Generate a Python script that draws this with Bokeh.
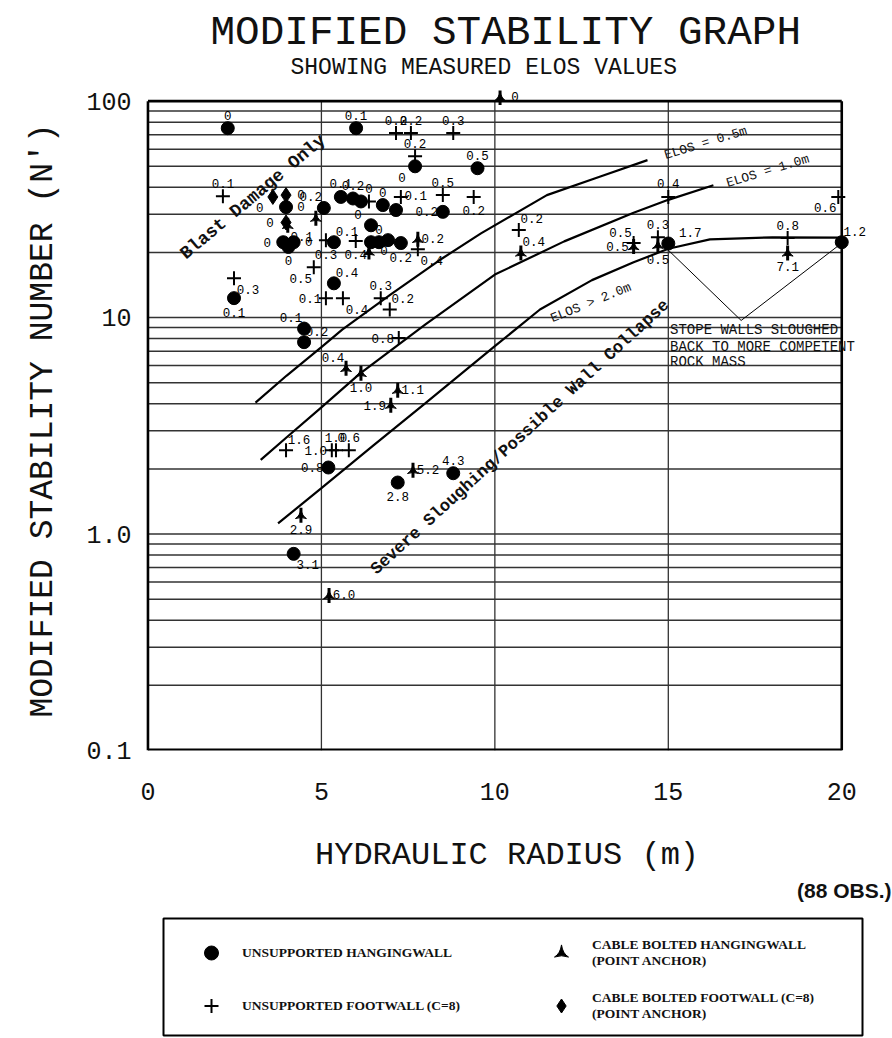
from bokeh.plotting import figure
from bokeh.models import (ColumnDataSource, Range1d, FixedTicker, LabelSet, Label,
                          Legend, LegendItem, Title)
from bokeh.layouts import column
from bokeh.embed import file_html
from bokeh.resources import INLINE
from bokeh.core.properties import value

MONO = "Liberation Mono"
SERIF = "Liberation Serif"

# ---------------- data ----------------
# Unsupported hangingwall (filled circles)
hw_x = [2.3, 6.0, 7.7, 9.5, 2.48, 4.5, 4.5, 5.36, 5.2, 4.2, 7.2, 8.8, 15.0, 20.0, 8.5,
        3.98, 3.9, 4.2, 4.05, 5.07, 5.56, 5.91, 6.14, 6.77, 7.15, 5.36, 6.43, 6.43, 6.66, 6.92, 7.29]
hw_n = [75, 75, 50, 49, 12.3, 8.9, 7.7, 14.4, 2.03, 0.81, 1.73, 1.91, 22.0, 22.3, 30.8,
        32.4, 22.3, 22.3, 21.2, 32.1, 36.1, 35.5, 34.4, 33.1, 31.4, 22.3, 26.7, 22.3, 22.3, 22.8, 22.1]
hw_elos = ["0", "0.1", "0", "0.5", "0.1", "0.1", "0.2", "0.4", "0.8", "3.1", "2.8", "4.3", "1.7", "1.2", "0.2",
           "0", "0", "0", "0", "0.2", "0.1", "0.2", "", "0", "", "0.1", "0", "", "0", "", "0.2"]
hw_lab = ["n", "n", "sw", "n", "s", "nw", "ne", "ne", "w", "se", "s", "n", "ene", "ne", "w",
          "e", "w", "e", "s", "nw", "n", "n", "", "n", "", "ne", "nw", "", "n", "", "s"]

# Unsupported footwall (plus)
fw_x = [7.15, 7.58, 8.8, 7.7, 2.16, 2.48, 4.78, 5.13, 5.62, 6.71, 6.97, 7.23, 3.98, 5.3, 5.42, 5.79,
        8.5, 9.39, 10.69, 14.0, 14.7, 15.0, 18.44, 19.9, 7.29, 6.37, 5.13, 5.99, 7.78]
fw_n = [71.2, 71.2, 71.2, 55.7, 36.4, 15.2, 17.1, 12.3, 12.3, 12.3, 10.9, 8.04, 2.44, 2.44, 2.44, 2.44,
        36.8, 36.1, 25.4, 22.1, 23.5, 36.1, 23.3, 36.1, 36.1, 34.4, 22.8, 22.6, 20.7]
fw_elos = ["0.2", "0.2", "0.3", "0.2", "0.1", "0.3", "0.5", "0.1", "0.4", "0.3", "0.2", "0.8", "1.6", "1.0", "1.0", "0.6",
           "0.5", "0.2", "0.2", "0.5", "0.3", "0.4", "0.8", "0.6", "0.1", "0", "0.3", "0.4", "0.4"]
fw_lab = ["n", "n", "n", "n", "n", "se", "sw", "w", "se", "n", "ne", "w", "ne", "w", "n", "n",
          "n", "s", "ne", "nw", "n", "n", "n", "sw", "e", "n", "s", "s", "se"]

# Cable bolted hangingwall (point anchor)
cb_x = [10.15, 5.71, 6.14, 7.2, 7.0, 4.41, 5.22, 7.64, 10.75, 14.0, 14.7, 18.44, 4.03, 4.84, 6.37, 7.78]
cb_n = [104, 5.83, 5.53, 4.62, 3.94, 1.22, 0.52, 1.97, 19.9, 21.3, 21.6, 19.9, 26.7, 28.8, 20.1, 23.0]
cb_elos = ["0", "0.4", "1.0", "1.1", "1.9", "2.9", "6.0", "5.2", "0.4", "0.5", "0.5", "7.1", "0.1", "", "0", "0.2"]
cb_lab = ["e", "nw", "s", "e", "w", "s", "e", "e", "ne", "w", "s", "s", "se", "", "e", "e"]

# Cable bolted footwall (point anchor)
cf_x = [3.6, 3.98, 3.98]
cf_n = [36.1, 36.8, 27.5]
cf_elos = ["0", "0", "0"]
cf_lab = ["sw", "e", "w"]

# Design lines
elos05_x = [3.1, 4.0, 5.0, 5.6, 7.0, 8.4, 9.6, 11.5, 13.0, 14.4]
elos05_n = [4.05, 5.4, 7.3, 8.8, 12.8, 18.4, 24.5, 36.8, 44.6, 53.4]
elos10_x = [3.25, 4.0, 5.0, 6.1, 8.0, 10.0, 12.0, 14.0, 15.0, 16.3]
elos10_n = [2.2, 2.8, 3.85, 5.5, 9.3, 15.8, 22.5, 30.5, 35.0, 40.9]
elos20_x = [3.75, 5.0, 6.5, 8.0, 10.0, 11.3, 12.8, 14.0, 15.0, 16.2, 18.0, 20.0]
elos20_n = [1.12, 1.63, 2.57, 4.03, 7.38, 10.9, 14.9, 18.0, 20.8, 23.0, 23.5, 23.4]
# "stope walls sloughed back" bracket
vee_x = [15.0, 17.1, 20.0]
vee_n = [20.5, 9.7, 22.1]

x_ticks = [0, 5, 10, 15, 20]
y_ticks = [0.1, 1, 10, 100]
y_tick_labels = ["0.1", "1.0", "10", "100"]
x_grid_vals = [5, 10, 15]
y_grid_vals = [k * 10.0 ** d for d in (-1, 0, 1) for k in range(2, 10)] + [1.0, 10.0]

# ---------------- main figure ----------------
p = figure(width=892, height=904, y_axis_type="log",
           x_range=Range1d(-0.1, 20.8), y_range=Range1d(0.1, 112),
           toolbar_location=None, output_backend="svg", frame_align=False,
           min_border_left=144, min_border_right=23, min_border_top=90, min_border_bottom=154,
           background_fill_color="white", border_fill_color="white")
p.outline_line_color = None
p.grid.visible = False

# grid lines (drawn only inside 0..20 / 0.1..100)
ng = len(y_grid_vals)
p.segment(x0=[0] * ng, y0=y_grid_vals, x1=[20] * ng, y1=y_grid_vals,
          line_color="#333333", line_width=1.5)
p.segment(x0=x_grid_vals, y0=[0.1] * 3, x1=x_grid_vals, y1=[100] * 3,
          line_color="#333333", line_width=1.3)
# frame border
p.segment(x0=[0, 20, 0], y0=[0.1, 0.1, 100], x1=[0, 20, 20], y1=[100, 100, 100],
          line_color="black", line_width=2.6)
p.segment(x0=[0], y0=[0.1], x1=[20], y1=[0.1], line_color="black", line_width=4)

# axes
p.xaxis.ticker = FixedTicker(ticks=x_ticks)
p.yaxis.ticker = FixedTicker(ticks=y_ticks)
p.yaxis.major_label_overrides = {t: l for t, l in zip(y_ticks, y_tick_labels)}
for ax in (p.xaxis[0], p.yaxis[0]):
    ax.axis_line_color = None
    ax.major_tick_line_color = None
    ax.minor_tick_line_color = None
    ax.major_label_text_font = MONO
    ax.major_label_text_font_size = "25px"
    ax.major_label_text_color = "#111111"
    ax.axis_label_text_font = MONO
    ax.axis_label_text_font_style = "normal"
    ax.axis_label_text_color = "#111111"
p.xaxis.major_label_standoff = 26
p.yaxis.major_label_standoff = 7
p.xaxis.axis_label = "HYDRAULIC RADIUS (m)"
p.yaxis.axis_label = "MODIFIED STABILITY NUMBER (N')"
p.xaxis.axis_label_text_font_size = "32px"
p.yaxis.axis_label_text_font_size = "33px"
p.xaxis.axis_label_standoff = 34
p.yaxis.axis_label_standoff = 21

# titles
p.add_layout(Title(text="SHOWING MEASURED ELOS VALUES", align="left", offset=146,
                   text_font=MONO, text_font_size="23px", text_font_style="normal",
                   text_color="#111111", standoff=19), "above")
p.add_layout(Title(text="MODIFIED STABILITY GRAPH", align="left", offset=66,
                   text_font=MONO, text_font_size="41px", text_font_style="normal",
                   text_color="#111111", standoff=-24), "above")
p.add_layout(Title(text="(88 OBS.)", align="right", offset=-22, text_font="Liberation Sans",
                   text_font_style="bold", text_font_size="21px", text_color="#111111",
                   standoff=1), "below")

# design lines
for lx, ln in ((elos05_x, elos05_n), (elos10_x, elos10_n), (elos20_x, elos20_n)):
    p.line(lx, ln, line_color="black", line_width=2.2)
p.line(vee_x, vee_n, line_color="black", line_width=1)

# markers
p.scatter(hw_x, hw_n, marker="circle", size=13, fill_color="black", line_color="black")
p.scatter(fw_x, fw_n, marker="cross", size=14, line_color="black", line_width=2)
p.scatter(cb_x, cb_n, marker="triangle_pin", size=11, fill_color="black", line_color="black")
p.scatter(cb_x, cb_n, marker="dash", angle=1.5708, size=15, line_color="black", line_width=3)
p.scatter(cf_x, cf_n, marker="diamond", size=15, fill_color="black", line_color="black")

# ELOS value labels
offs = {"n": (0, 13), "s": (0, -14), "e": (15, 1), "w": (-16, 0), "ne": (13, 11), "nw": (-13, 11),
        "se": (14, -11), "sw": (-13, -11), "ene": (22, 11), "": (0, 0)}
all_x = hw_x + fw_x + cb_x + cf_x
all_n = hw_n + fw_n + cb_n + cf_n
all_t = hw_elos + fw_elos + cb_elos + cf_elos
all_p = hw_lab + fw_lab + cb_lab + cf_lab
lab_src = ColumnDataSource(dict(x=all_x, y=all_n, text=all_t,
                                dx=[offs[c][0] for c in all_p], dy=[offs[c][1] for c in all_p]))
p.add_layout(LabelSet(x="x", y="y", text="text", x_offset="dx", y_offset="dy", source=lab_src,
                      text_align="center", text_baseline="middle", text_font=value(MONO),
                      text_font_size="12.5px", text_color="#000000"))

# line and region captions
def rtext(x, y, t, ang, size, bold=False):
    p.text(x=[x], y=[y], text=[t], angle=ang, angle_units="deg", text_align="center",
           text_baseline="middle", text_font=value(MONO), text_font_size=size,
           text_font_style="bold" if bold else "normal", text_color="#111111")

rtext(16.08, 64.0, "ELOS = 0.5m", 17, "13px")
rtext(17.87, 47.5, "ELOS = 1.0m", 17, "13px")
rtext(12.77, 11.7, "ELOS > 2.0m", 22, "13px")
rtext(3.03, 36.1, "Blast Damage Only", 40, "18px", True)
rtext(10.73, 2.80, "Severe Sloughing/Possible Wall Collapse", 42.5, "17px", True)

for t, yy in (("STOPE WALLS SLOUGHED", 8.745), ("BACK TO MORE COMPETENT", 7.30), ("ROCK MASS", 6.22)):
    p.add_layout(Label(x=15.05, y=yy, text=t, text_align="left", text_baseline="middle",
                       text_font=MONO, text_font_size="14px", text_color="#111111"))

# ---------------- legend panel ----------------
p2 = figure(width=892, height=134, x_range=Range1d(0, 1), y_range=Range1d(0, 1),
            toolbar_location=None, output_backend="svg", frame_align=False,
            min_border_left=163, min_border_right=30, min_border_top=14, min_border_bottom=3,
            x_axis_location=None, y_axis_location=None,
            background_fill_color="white", border_fill_color="white")
p2.grid.visible = False
p2.outline_line_color = "black"
p2.outline_line_width = 2
g1 = p2.scatter(hw_x, hw_n, marker="circle", fill_color="black", line_color="black", visible=False)
g2 = p2.scatter(fw_x, fw_n, marker="cross", line_color="black", line_width=2, visible=False)
g3 = p2.scatter(cb_x, cb_n, marker="triangle_pin", fill_color="black", line_color="black", visible=False)
g4 = p2.scatter(cf_x, cf_n, marker="diamond", fill_color="black", line_color="black", visible=False)
legend = Legend(items=[
    LegendItem(label="UNSUPPORTED HANGINGWALL", renderers=[g1]),
    LegendItem(label="UNSUPPORTED FOOTWALL (C=8)", renderers=[g2]),
    LegendItem(label="CABLE BOLTED HANGINGWALL\n(POINT ANCHOR)", renderers=[g3]),
    LegendItem(label="CABLE BOLTED FOOTWALL (C=8)\n(POINT ANCHOR)", renderers=[g4]),
], location="top_left", orientation="vertical", nrows=2,
    margin=17, padding=0, spacing=18, glyph_width=62, glyph_height=35,
    label_standoff=0, label_width=270, label_height=35,
    border_line_color=None, background_fill_alpha=0,
    label_text_font=SERIF, label_text_font_style="bold", label_text_font_size="13.5px",
    label_text_color="#111111")
p2.add_layout(legend)

layout = column(p, p2, spacing=0)
open("out.html", "w").write(file_html(layout, INLINE))
